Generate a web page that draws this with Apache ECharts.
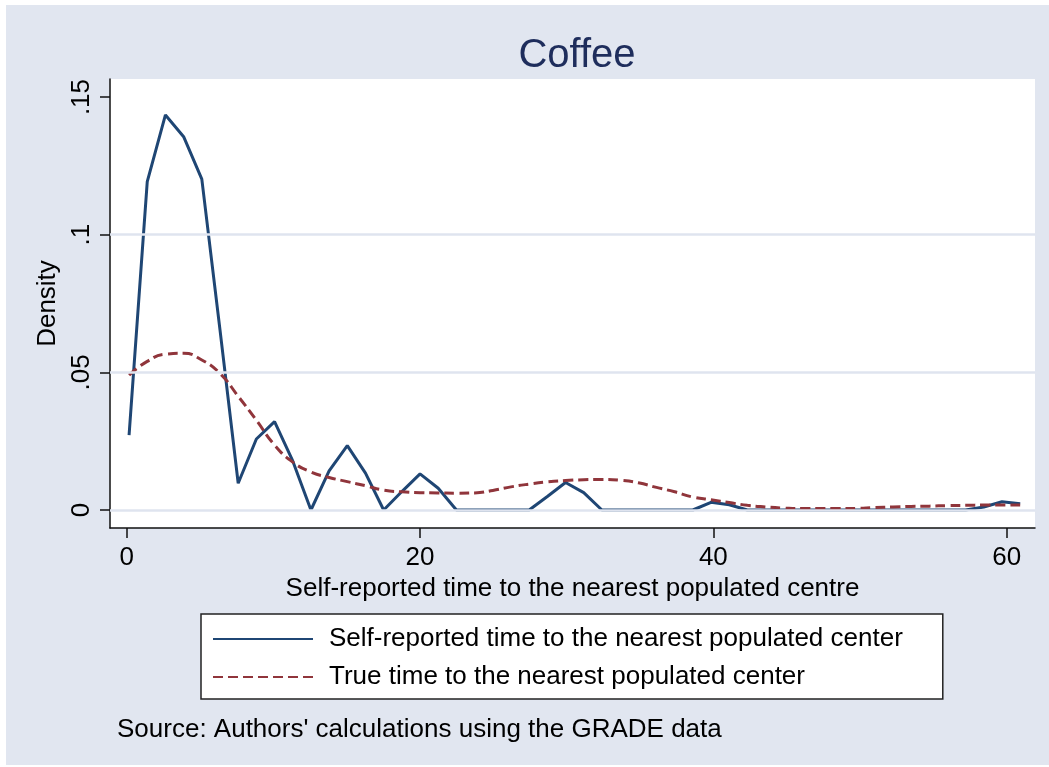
<!DOCTYPE html>
<html>
<head>
<meta charset="utf-8">
<script src="https://cdn.jsdelivr.net/npm/echarts@6/dist/echarts.min.js"></script>
<style>
html,body{margin:0;padding:0;background:#fff;}
#chart{width:1049px;height:767px;}
</style>
</head>
<body>
<div id="chart"></div>
<script>
// Evaluation points (kernel density grid)
const xValues = [0.16, 1.40, 2.64, 3.88, 5.12, 6.36, 7.60, 8.84, 10.08, 11.32,
  12.56, 13.80, 15.04, 16.28, 17.52, 18.76, 20.00, 21.24, 22.48, 23.72,
  24.96, 26.20, 27.44, 28.68, 29.92, 31.16, 32.40, 33.64, 34.88, 36.12,
  37.36, 38.60, 39.84, 41.08, 42.32, 43.56, 44.80, 46.04, 47.28, 48.52,
  49.76, 51.00, 52.24, 53.48, 54.72, 55.96, 57.20, 58.44, 59.68, 60.92];

// Density: self-reported time
const selfReported = [0.0272, 0.1193, 0.1435, 0.1356, 0.1202, 0.0654, 0.0097, 0.0258, 0.0321, 0.0178,
  0.0000, 0.0142, 0.0234, 0.0134, 0.0000, 0.0067, 0.0131, 0.0079, 0.0000, 0.0000,
  0.0000, 0.0000, 0.0000, 0.0049, 0.0100, 0.0063, 0.0000, 0.0000, 0.0000, 0.0000,
  0.0000, 0.0000, 0.0028, 0.0019, 0.0000, 0.0000, 0.0000, 0.0000, 0.0000, 0.0000,
  0.0000, 0.0000, 0.0000, 0.0000, 0.0000, 0.0000, 0.0000, 0.0011, 0.0030, 0.0023];

// Density: true time
const trueTime = [0.0490, 0.0540, 0.0566, 0.0569, 0.0545, 0.0496, 0.0413, 0.0326, 0.0236, 0.0174,
  0.0138, 0.0118, 0.0103, 0.0088, 0.0072, 0.0066, 0.0063, 0.0062, 0.0061, 0.0062,
  0.0071, 0.0084, 0.0094, 0.0102, 0.0107, 0.0110, 0.0111, 0.0108, 0.0099, 0.0082,
  0.0066, 0.0047, 0.0037, 0.0027, 0.0017, 0.0011, 0.0007, 0.0005, 0.0005, 0.0005,
  0.0006, 0.0009, 0.0011, 0.0013, 0.0014, 0.0016, 0.0017, 0.0018, 0.0018, 0.0018];

const seriesNames = ['Self-reported time to the nearest populated center',
                     'True time to the nearest populated center'];
const xTicks = [0, 20, 40, 60];
const yTicks = [0, 0.05, 0.1, 0.15];
const yTickLabels = {'0': '0', '0.05': '.05', '0.1': '.1', '0.15': '.15'};
const gridValues = [0, 0.05, 0.1];

const FONT = '"Liberation Sans", Arial, Helvetica, sans-serif';
const PANEL = '#e1e6f0';

const chart = echarts.init(document.getElementById('chart'), null, {renderer: 'canvas'});

const option = {
  backgroundColor: PANEL,
  animation: false,
  graphic: [
    {type: 'rect', shape: {x: 0, y: 0, width: 1049, height: 5}, style: {fill: '#fff'}},
    {type: 'rect', shape: {x: 0, y: 0, width: 6, height: 767}, style: {fill: '#fff'}},
    {type: 'rect', shape: {x: 0, y: 765, width: 1049, height: 2}, style: {fill: '#fff'}}
  ],
  title: [
    {text: 'Coffee', left: 572, top: 31, textAlign: 'center',
     textStyle: {fontFamily: FONT, fontSize: 40, fontWeight: 'normal', color: '#1e2d5c'}},
    {text: "Source: Authors' calculations using the GRADE data", left: 117, top: 717,
     padding: 0,
     textStyle: {fontFamily: FONT, fontSize: 26, fontWeight: 'normal', color: '#000'}}
  ],
  grid: {left: 110, top: 79, right: 14, bottom: 239, show: true,
         backgroundColor: '#fff', borderWidth: 0},
  legend: {
    data: seriesNames,
    orient: 'vertical', left: 201, top: 614,
    padding: [12, 40, 9, 11],
    itemWidth: 100, itemHeight: 26, itemGap: 12,
    backgroundColor: '#fff', borderColor: '#222', borderWidth: 1.5,
    itemStyle: {opacity: 0},
    textStyle: {fontFamily: FONT, fontSize: 26, color: '#000', padding: [0, 0, 0, 11]}
  },
  xAxis: {
    type: 'value', min: -1.14, max: 61.93,
    name: 'Self-reported time to the nearest populated centre',
    nameLocation: 'middle', nameGap: 45,
    nameTextStyle: {fontFamily: FONT, fontSize: 26, color: '#000'},
    axisLine: {show: true, onZero: false, lineStyle: {color: '#111', width: 1.5}},
    axisTick: {show: true, length: 10, lineStyle: {color: '#111', width: 1.5}, customValues: xTicks},
    axisLabel: {fontFamily: FONT, fontSize: 26, color: '#000', margin: 17, customValues: xTicks},
    splitLine: {show: false}
  },
  yAxis: {
    type: 'value', min: -0.00654, max: 0.15655,
    name: 'Density', nameLocation: 'middle', nameGap: 41, nameRotate: 90,
    nameTextStyle: {fontFamily: FONT, fontSize: 26, color: '#000'},
    axisLine: {show: true, onZero: false, lineStyle: {color: '#111', width: 1.5}},
    axisTick: {show: true, length: 10, lineStyle: {color: '#111', width: 1.5}, customValues: yTicks},
    axisLabel: {fontFamily: FONT, fontSize: 26, color: '#000', margin: 15, rotate: 90,
      customValues: yTicks,
      formatter: function (v) { const k = String(+v.toFixed(4)); return yTickLabels[k] !== undefined ? yTickLabels[k] : k; }},
    splitLine: {show: false}
  },
  series: [
    {
      name: 'grid', type: 'line', data: [], z: 1, silent: true,
      markLine: {
        silent: true, symbol: 'none', label: {show: false},
        lineStyle: {color: '#dfe4ef', width: 2.5, type: 'solid'},
        data: gridValues.map(v => ({yAxis: v}))
      }
    },
    {
      name: seriesNames[0], type: 'line', z: 3,
      data: xValues.map((x, i) => [x, selfReported[i]]),
      symbol: 'none', smooth: false,
      lineStyle: {color: '#1f4674', width: 3},
      itemStyle: {color: '#1f4674'}
    },
    {
      name: seriesNames[1], type: 'line', z: 4,
      data: xValues.map((x, i) => [x, trueTime[i]]),
      symbol: 'none', smooth: true,
      lineStyle: {color: '#90353b', width: 3, type: [10, 5]},
      itemStyle: {color: '#90353b'}
    }
  ]
};
chart.setOption(option);
</script>
</body>
</html>
